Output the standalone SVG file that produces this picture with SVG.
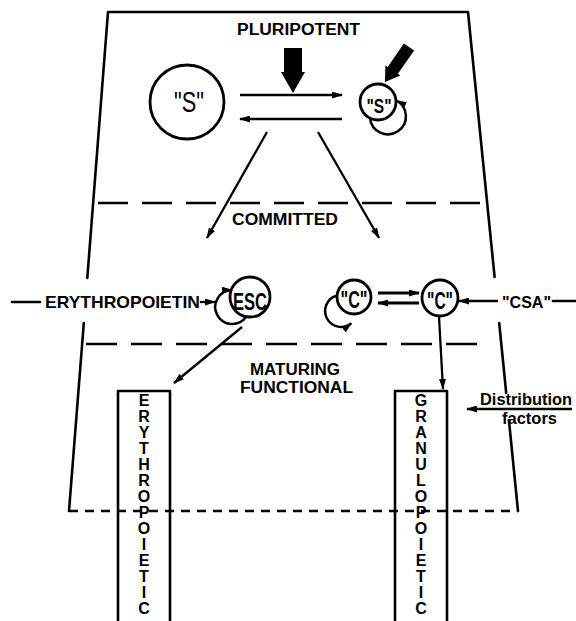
<svg xmlns="http://www.w3.org/2000/svg" width="576" height="621" viewBox="0 0 576 621">
<style>
.ln{fill:none;stroke:#000;stroke-width:2.6;stroke-linecap:round;stroke-linejoin:round}
.ar{fill:none;stroke:#000;stroke-width:2.3;marker-end:url(#ah)}
.cir{fill:#fff;stroke:#000;stroke-width:2.8}
.loop{fill:none;stroke:#000;stroke-width:2.5;marker-end:url(#ah)}
.t{font-family:"Liberation Sans",Arial,sans-serif;font-weight:bold;fill:#000}
.c{text-anchor:middle}
.dash{fill:none;stroke:#000;stroke-width:2.3}
</style>
<defs>
<marker id="ah" viewBox="0 0 11 7" refX="10" refY="3.5" markerWidth="11" markerHeight="7" markerUnits="userSpaceOnUse" orient="auto">
<path d="M0,0 L11,3.5 L0,7 z" fill="#000"/>
</marker>
</defs>
<rect width="576" height="621" fill="#fff"/>

<g id="frame">
<path class="ln" d="M87.3,278 L108,12 L468,12 L494.6,277"/>
<path class="ln" d="M83.8,323 L69,511"/>
<path class="ln" d="M499.2,323 L506.2,393"/>
<path class="ln" d="M508.9,420 L518,511"/>
<line class="dash" x1="98" y1="203" x2="485" y2="203" stroke-dasharray="30 14"/>
<line class="dash" x1="86" y1="344" x2="483" y2="344" stroke-dasharray="31 14"/>
<line class="dash" x1="69" y1="511" x2="518" y2="511" stroke-dasharray="9 7"/>
</g>

<g id="labels">
<text class="t" x="237" y="35" font-size="16" textLength="123" lengthAdjust="spacingAndGlyphs">PLURIPOTENT</text>
<text class="t" x="232" y="225" font-size="16" textLength="106" lengthAdjust="spacingAndGlyphs">COMMITTED</text>
<text class="t" x="250" y="375" font-size="16" textLength="90" lengthAdjust="spacingAndGlyphs">MATURING</text>
<text class="t" x="240" y="393" font-size="16" textLength="113" lengthAdjust="spacingAndGlyphs">FUNCTIONAL</text>
</g>

<g id="pluripotent-S">
<circle class="cir" cx="187" cy="102" r="37"/>
<text class="t c" x="189" y="112" font-size="29" textLength="30" lengthAdjust="spacingAndGlyphs" style="font-weight:normal">"S"</text>
</g>

<g id="pluripotent-s-small">
<path class="loop" d="M370,118.1 A18,18 0 1 0 396.5,100.5"/>
<circle class="cir" cx="378" cy="102" r="18"/>
<text class="t c" x="379" y="113" font-size="21" textLength="25" lengthAdjust="spacingAndGlyphs">"S"</text>
</g>

<g id="erythropoietin">
<line class="ln" x1="12" y1="302" x2="40" y2="302"/>
<text class="t" x="45" y="308" font-size="17" textLength="155" lengthAdjust="spacingAndGlyphs">ERYTHROPOIETIN</text>
</g>

<g id="ESC">
<path class="loop" d="M246,317 A17,17 0 1 1 232,290"/>
<circle class="cir" cx="250" cy="297" r="20"/>
<text class="t c" x="250" y="310" font-size="23" textLength="34" lengthAdjust="spacingAndGlyphs">ESC</text>
</g>

<g id="C-left">
<path class="loop" d="M337,295.5 A16,16 0 1 0 351.3,323.3"/>
<circle class="cir" cx="354" cy="297" r="17"/>
<text class="t c" x="354" y="307.5" font-size="24" textLength="27" lengthAdjust="spacingAndGlyphs">"C"</text>
</g>

<g id="C-right">
<circle class="cir" cx="440" cy="298" r="18"/>
<text class="t c" x="440" y="308.5" font-size="24" textLength="26" lengthAdjust="spacingAndGlyphs">"C"</text>
</g>

<g id="CSA">
<text class="t" x="502" y="308" font-size="17" textLength="49" lengthAdjust="spacingAndGlyphs">"CSA"</text>
<line class="ln" x1="553" y1="301" x2="576" y2="301"/>
</g>

<g id="distribution">
<text class="t" x="480" y="405" font-size="16" textLength="92" lengthAdjust="spacingAndGlyphs">Distribution</text>
<text class="t" x="502" y="424" font-size="16" textLength="55" lengthAdjust="spacingAndGlyphs">factors</text>
</g>

<g id="erythropoietic">
<path class="ln" d="M118,630 V391 H170 V630"/>
<g class="t c" font-size="16">
<text x="144" y="406">E</text><text x="144" y="422">R</text><text x="144" y="438">Y</text><text x="144" y="454">T</text><text x="144" y="470">H</text><text x="144" y="486">R</text><text x="144" y="502">O</text><text x="144" y="518">P</text><text x="144" y="534">O</text><text x="144" y="550">I</text><text x="144" y="566">E</text><text x="144" y="582">T</text><text x="144" y="598">I</text><text x="144" y="614">C</text>
</g>
</g>

<g id="granulopoietic">
<path class="ln" d="M395,630 V391 H447 V630"/>
<g class="t c" font-size="16">
<text x="421" y="406">G</text><text x="421" y="422">R</text><text x="421" y="438">A</text><text x="421" y="454">N</text><text x="421" y="470">U</text><text x="421" y="486">L</text><text x="421" y="502">O</text><text x="421" y="518">P</text><text x="421" y="534">O</text><text x="421" y="550">I</text><text x="421" y="566">E</text><text x="421" y="582">T</text><text x="421" y="598">I</text><text x="421" y="614">C</text>
</g>
</g>

<g id="connectors">
<polygon points="284,48 302,48 302,72 305,72 293,93 281,72 284,72" fill="#000"/>
<polygon points="414.1,50.4 397.9,73.8 400.3,75.5 385,82 385.4,65.4 387.7,66.9 403.9,43.6" fill="#000"/>
<line class="ar" x1="240" y1="95" x2="342" y2="95"/>
<line class="ar" x1="342" y1="119" x2="240" y2="119"/>
<line class="ar" x1="267" y1="132" x2="207" y2="238"/>
<line class="ar" x1="318" y1="132" x2="379" y2="238"/>
<line class="ar" x1="200" y1="302" x2="215" y2="302"/>
<line class="ar" x1="378" y1="293" x2="419" y2="293" style="stroke-width:2.8"/>
<line class="ar" x1="419" y1="303" x2="378" y2="303" style="stroke-width:2.8"/>
<line class="ar" x1="498" y1="301" x2="459" y2="301"/>
<line class="ar" x1="242" y1="327" x2="174" y2="383"/>
<line class="ar" x1="439" y1="317" x2="443" y2="389"/>
<line class="ar" x1="572" y1="409" x2="467" y2="409"/>
</g>
</svg>
